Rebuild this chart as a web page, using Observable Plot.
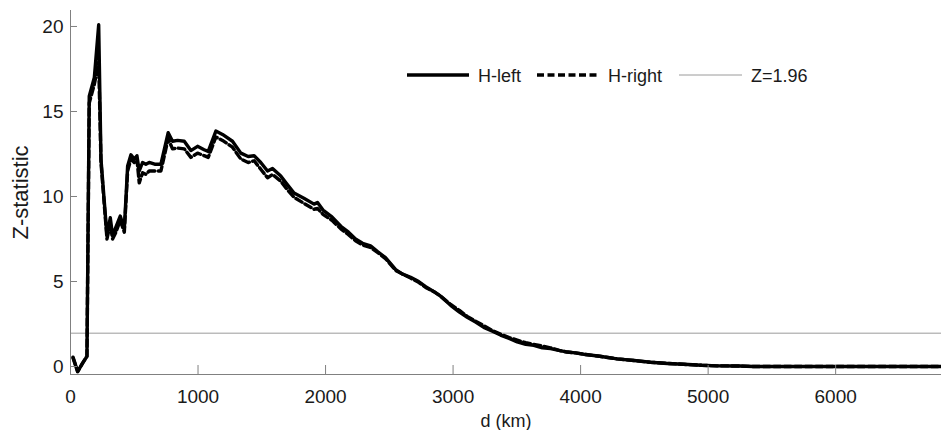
<!DOCTYPE html>
<html><head><meta charset="utf-8">
<script src="https://cdn.jsdelivr.net/npm/d3@7"></script>
<script src="https://cdn.jsdelivr.net/npm/@observablehq/plot@0.6"></script>
<style>
body{margin:0;background:#fff;}
#wrap{position:relative;width:941px;height:430px;font-family:"Liberation Sans",Arial,sans-serif;}
#legend{position:absolute;left:0;top:0;pointer-events:none;}
</style>
</head><body><div id="wrap"></div>
<script>
const dist = [20, 56, 95, 129, 147, 187, 221, 239, 286, 312, 330, 356, 390, 422, 448, 474, 500, 521, 539, 565, 591, 617, 660, 709, 766, 800, 840, 892, 944, 996, 1048, 1080, 1140, 1192, 1270, 1336, 1393, 1440, 1492, 1545, 1584, 1649, 1700, 1753, 1830, 1910, 1937, 1980, 2050, 2120, 2180, 2235, 2290, 2353, 2410, 2470, 2550, 2600, 2667, 2730, 2785, 2850, 2900, 2981, 3050, 3111, 3180, 3241, 3300, 3372, 3440, 3503, 3570, 3633, 3700, 3764, 3830, 3895, 3960, 4025, 4150, 4286, 4420, 4547, 4680, 4808, 4950, 5070, 5250, 5355, 6000, 6830];
const hLeft = [0.55, -0.3, 0.2, 0.6, 15.9, 17.0, 20.1, 12.2, 7.7, 8.75, 7.7, 8.2, 8.85, 8.1, 11.8, 12.45, 12.2, 12.4, 11.5, 12.0, 11.9, 12.0, 11.9, 11.9, 13.75, 13.25, 13.3, 13.25, 12.7, 12.95, 12.75, 12.65, 13.85, 13.65, 13.25, 12.55, 12.35, 12.4, 12.0, 11.5, 11.65, 11.2, 10.7, 10.2, 9.9, 9.55, 9.65, 9.2, 8.8, 8.25, 7.9, 7.5, 7.25, 7.1, 6.75, 6.4, 5.7, 5.45, 5.25, 5.0, 4.7, 4.4, 4.15, 3.6, 3.2, 2.9, 2.6, 2.3, 2.1, 1.85, 1.65, 1.45, 1.3, 1.25, 1.1, 1.05, 0.95, 0.85, 0.8, 0.72, 0.6, 0.45, 0.35, 0.25, 0.18, 0.13, 0.07, 0.04, 0.03, 0.0, 0.0, 0.0];
const hRight = [0.5, -0.3, 0.2, 0.6, 15.5, 16.6, 17.9, 12.0, 7.5, 8.4, 7.5, 7.9, 8.6, 7.9, 11.5, 12.2, 12.0, 12.2, 10.8, 11.4, 11.3, 11.5, 11.5, 11.5, 13.4, 12.8, 12.85, 12.8, 12.3, 12.55, 12.4, 12.3, 13.5, 13.3, 12.9, 12.2, 12.0, 12.1, 11.6, 11.1, 11.3, 10.9, 10.4, 9.95, 9.6, 9.25, 9.3, 8.95, 8.6, 8.1, 7.75, 7.4, 7.15, 7.0, 6.7, 6.35, 5.65, 5.45, 5.2, 4.95, 4.65, 4.4, 4.15, 3.65, 3.3, 2.95, 2.65, 2.4, 2.15, 1.9, 1.7, 1.55, 1.4, 1.3, 1.2, 1.1, 0.95, 0.85, 0.8, 0.72, 0.6, 0.45, 0.35, 0.25, 0.18, 0.13, 0.07, 0.04, 0.03, 0.0, 0.0, 0.0];
const zCrit = 1.96;
const xTicks = [0, 1000, 2000, 3000, 4000, 5000, 6000];
const yTicks = [0, 5, 10, 15, 20];
const xDomain = [0, 6830];
const yDomain = [-0.47, 20.94];
const seriesNames = ["H-left", "H-right", "Z=1.96"];

const leftRows = dist.map((d, i) => ({d, z: hLeft[i]}));
const rightRows = dist.map((d, i) => ({d, z: hRight[i]}));
const axisColor = "#808080";

const chart = Plot.plot({
  width: 941, height: 430,
  marginLeft: 70, marginRight: 0, marginTop: 10, marginBottom: 56,
  style: {fontFamily: "'Liberation Sans', Arial, sans-serif", fontSize: "18px", color: "#1a1a1a", background: "#fff", overflow: "visible"},
  x: {domain: xDomain},
  y: {domain: yDomain},
  marks: [
    Plot.ruleY([zCrit], {stroke: "#9a9a9a", strokeWidth: 1}),
    Plot.line(leftRows, {x: "d", y: "z", stroke: "#000", strokeWidth: 3.4}),
    Plot.line(rightRows, {x: "d", y: "z", stroke: "#000", strokeWidth: 3.4, strokeDasharray: "7,3.5"}),
    Plot.ruleX([xDomain[0]], {stroke: axisColor, strokeWidth: 1}),
    Plot.ruleY([yDomain[0]], {stroke: axisColor, strokeWidth: 1}),
    Plot.tickX(xTicks, {x: d => d, stroke: axisColor, insetTop: 355}),
    Plot.tickY(yTicks, {y: d => d, stroke: axisColor, insetRight: 864}),
    Plot.axisX({ticks: xTicks, tickSize: 0, tickPadding: 15, tickFormat: d => String(d), fontSize: 19, label: null}),
    Plot.axisX({ticks: [], tickSize: 0, fontSize: 18,
      label: "d (km)", labelAnchor: "center", labelArrow: "none", labelOffset: 52}),
    Plot.axisY({ticks: yTicks, tickSize: 0, tickPadding: 7, tickFormat: d => String(d), fontSize: 19, label: null}),
    Plot.axisY({ticks: [], tickSize: 0, fontSize: 22,
      label: "Z-statistic", labelAnchor: "center", labelArrow: "none", labelOffset: 58})
  ]
});
const wrap = document.getElementById("wrap");
wrap.appendChild(chart);

// legend overlay
const ns = "http://www.w3.org/2000/svg";
const lg = document.createElementNS(ns, "svg");
lg.setAttribute("id", "legend");
lg.setAttribute("width", 941);
lg.setAttribute("height", 430);
const items = [
  {name: seriesNames[0], x1: 407, x2: 469, tx: 478, stroke: "#000", sw: 3.4, dash: null},
  {name: seriesNames[1], x1: 537, x2: 599, tx: 608, stroke: "#000", sw: 3.4, dash: "7,3.5"},
  {name: seriesNames[2], x1: 679, x2: 742, tx: 751, stroke: "#9a9a9a", sw: 1, dash: null}
];
for (const it of items) {
  const l = document.createElementNS(ns, "line");
  l.setAttribute("x1", it.x1); l.setAttribute("x2", it.x2);
  l.setAttribute("y1", 75); l.setAttribute("y2", 75);
  l.setAttribute("stroke", it.stroke); l.setAttribute("stroke-width", it.sw);
  if (it.dash) l.setAttribute("stroke-dasharray", it.dash);
  lg.appendChild(l);
  const t = document.createElementNS(ns, "text");
  t.setAttribute("x", it.tx); t.setAttribute("y", 82);
  t.setAttribute("font-size", 18);
  t.setAttribute("font-family", "'Liberation Sans', Arial, sans-serif");
  t.setAttribute("fill", "#1a1a1a");
  t.textContent = it.name;
  lg.appendChild(t);
}
wrap.appendChild(lg);
</script>
</body></html>
